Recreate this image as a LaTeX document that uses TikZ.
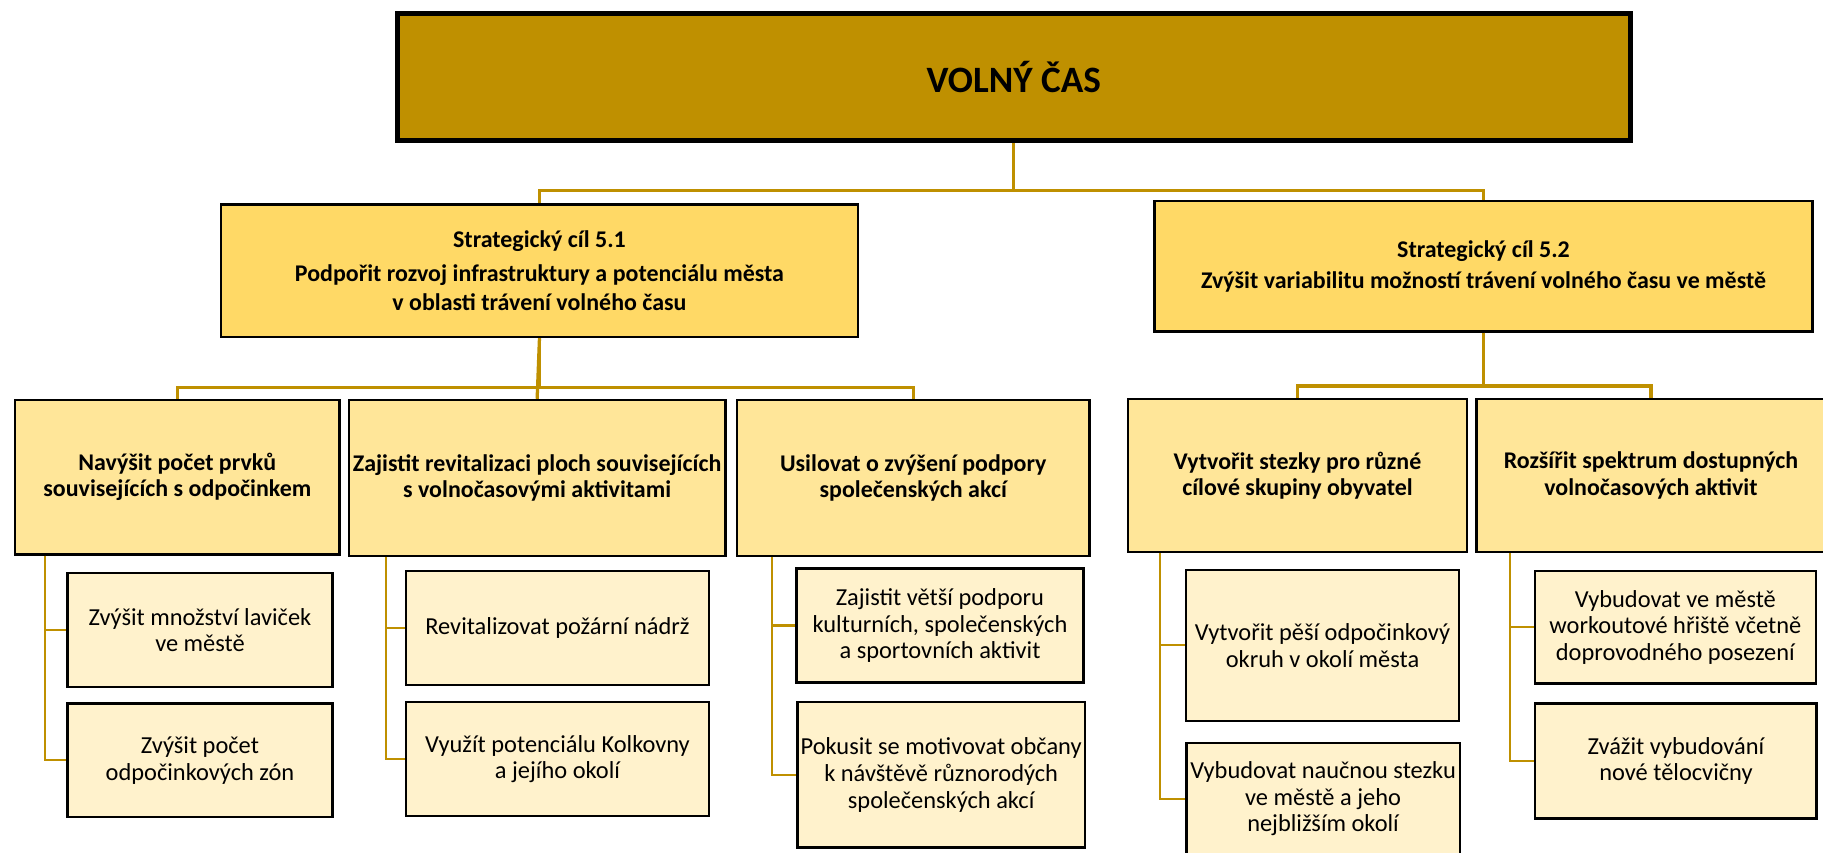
\documentclass[tikz,border=0pt]{standalone}
\usepackage{fontspec}
\setmainfont{Carlito}
\usepackage{tikz}
\usetikzlibrary{positioning}

\definecolor{gold}{RGB}{191,144,0}
\definecolor{goalfill}{RGB}{255,217,102}
\definecolor{subfill}{RGB}{255,230,153}
\definecolor{leaffill}{RGB}{255,242,204}

\tikzset{
    mainbox/.style={draw=black, line width=4.3pt, fill=gold, inner sep=0pt,
        font=\fontsize{32}{38}\selectfont\bfseries},
    goalbox/.style={draw=black, line width=2pt, fill=goalfill, inner sep=0pt, align=center,
        font=\fontsize{20.6}{25}\selectfont\bfseries},
    subbox/.style={draw=black, line width=2pt, fill=subfill, inner sep=0pt, align=center,
        font=\fontsize{20.6}{22.5}\selectfont\bfseries},
    leafbox/.style={draw=black, line width=2pt, fill=leaffill, inner sep=0pt, align=center,
        font=\fontsize{21}{23}\selectfont},
    link/.style={draw=gold, line width=2.8pt},
    leaflink/.style={draw=gold, line width=1.9pt}
}

\begin{document}
\begin{tikzpicture}[x=1pt, y=-1pt]
        \useasboundingbox (0,0) rectangle (1568,733);

        % Top box
        \node[mainbox, minimum width=1060pt, minimum height=109pt] (top) at (872,66.5) {VOLNÝ ČAS};

        % Strategic goals
        \node[goalbox, minimum width=548pt, minimum height=114pt] (sc1) at (464,233)
            {Strategický cíl 5.1\\[4pt] Podpořit rozvoj infrastruktury a potenciálu města\\ v oblasti trávení volného času};
        \node[goalbox, minimum width=566pt, minimum height=112pt] (sc2) at (1276,229)
            {Strategický cíl 5.2\\[2pt] Zvýšit variabilitu možností trávení volného času ve městě};

        % Specific goals
        \node[subbox, minimum width=279pt, minimum height=133pt] (b1) at (152.5,410.5)
            {Navýšit počet prvků\\ souvisejících s odpočinkem};
        \node[subbox, minimum width=324pt, minimum height=134pt] (b2) at (462,411)
            {Zajistit revitalizaci ploch souvisejících\\ s volnočasovými aktivitami};
        \node[subbox, minimum width=303pt, minimum height=134pt] (b3) at (785.5,411)
            {Usilovat o zvýšení podpory\\ společenských akcí};
        \node[subbox, minimum width=292pt, minimum height=132pt] (b4) at (1116,409)
            {Vytvořit stezky pro různé\\ cílové skupiny obyvatel};
        \node[subbox, minimum width=300pt, minimum height=132pt] (b5) at (1420,409)
            {Rozšířit spektrum dostupných\\ volnočasových aktivit};

        % Measures
        \node[leafbox, minimum width=228pt, minimum height=98pt] (c1a) at (172,542)
            {Zvýšit množství laviček\\ ve městě};
        \node[leafbox, minimum width=228pt, minimum height=98pt] (c1b) at (172,654)
            {Zvýšit počet\\ odpočinkových zón};
        \node[leafbox, minimum width=261pt, minimum height=98pt] (c2a) at (479.5,540)
            {Revitalizovat požární nádrž};
        \node[leafbox, minimum width=261pt, minimum height=98pt] (c2b) at (479.5,653)
            {Využít potenciálu Kolkovny\\ a jejího okolí};
        \node[leafbox, minimum width=247pt, minimum height=98pt] (c3a) at (808.5,538)
            {Zajistit větší podporu\\ kulturních, společenských\\ a sportovních aktivit};
        \node[leafbox, minimum width=247pt, minimum height=125pt] (c3b) at (809.5,666.5)
            {Pokusit se motivovat občany\\ k návštěvě různorodých\\ společenských akcí};
        \node[leafbox, minimum width=235pt, minimum height=130pt] (c4a) at (1137.5,555)
            {Vytvořit pěší odpočinkový\\ okruh v okolí města};
        \node[leafbox, minimum width=235pt, minimum height=96pt] (c4b) at (1138,687)
            {Vybudovat naučnou stezku\\ ve městě a jeho\\ nejbližším okolí};
        \node[leafbox, minimum width=242pt, minimum height=97pt] (c5a) at (1441,539.5)
            {Vybudovat ve městě\\ workoutové hřiště včetně\\ doprovodného posezení};
        \node[leafbox, minimum width=242pt, minimum height=99pt] (c5b) at (1441.5,654.5)
            {Zvážit vybudování\\ nové tělocvičny};

        % Connectors top level
        \draw[link] (top.south) -- ++(0,41) -| (sc1.north);
        \draw[link] (top.south) -- ++(0,41) -| (sc2.north);

        % Connectors goal -> specific goals
        \draw[link] (sc1.south) -- ++(0,42) -| (b1.north);
        \draw[link] (sc1.south) -- (b2.north);
        \draw[link] (sc1.south) -- ++(0,42) -| (b3.north);
        \draw[link] (sc2.south) -- ++(0,46) -| (b4.north);
        \draw[link] (sc2.south) -- ++(0,46) -| (b5.north);

        % Connectors specific goals -> measures
        \foreach \b/\c/\dx in {b1/c1a/27, b1/c1b/27, b2/c2a/33, b2/c2b/33, b3/c3a/31, b3/c3b/31,
                               b4/c4a/29, b4/c4b/29, b5/c5a/30, b5/c5b/30} {
            \draw[leaflink] ([xshift=\dx pt]\b.south west) |- (\c.west);
        }
    \end{tikzpicture}
\end{document}
